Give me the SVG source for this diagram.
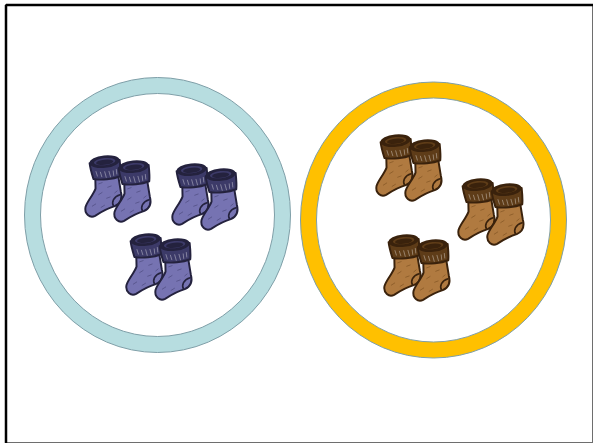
<svg xmlns="http://www.w3.org/2000/svg" width="594" height="445" viewBox="0 0 594 445">
  <style>
    .ring-blue { fill: none; stroke: #b7dde0; stroke-width: 16; }
    .ring-gold { fill: none; stroke: #ffc000; stroke-width: 16; }
    .ring-edge { fill: none; stroke: #7f9fa8; stroke-width: 1; }
    .blue { --body: #7673b2; --ink: #24223e; --band: #3c3a68; --hatch: #3a3866; }
    .brown { --body: #b07a40; --ink: #3a220c; --band: #5e3c18; --hatch: #6a4216; }
    .body { fill: var(--body); stroke: var(--ink); stroke-width: 1.8; stroke-linejoin: round; }
    .band { fill: var(--band); stroke: var(--ink); stroke-width: 1.8; stroke-linejoin: round; }
    .ink { fill: var(--ink); }
    .opening { fill: var(--band); }
    .heel { fill: none; stroke: var(--ink); stroke-width: 1.5; stroke-linecap: round; }
    .hatch { fill: none; stroke: var(--hatch); stroke-width: 0.7; opacity: 0.6; }
    .frill { fill: none; stroke: #fff; stroke-width: 0.8; opacity: 0.4; }
  </style>
  <defs>
    <!-- one sock, origin at the top-left of its cuff, toe pointing down-left -->
    <g id="sock">
      <path class="body" d="M4,18 L3,30 C0,36 -6,41 -8,46 C-10,52 -5,57 0,55 C6,52 13,49 19,48 C25,46 27,41 26,35 L25,18 Z"/>
      <path class="hatch" d="M6,26 L10,25 M14,30 L18,29 M5,36 L9,34 M12,40 L16,39 M-2,46 L2,44 M6,48 L10,46 M20,36 L23,34"/>
      <path class="heel" d="M18,48 C16,44 19,39 25,38"/>
      <path class="band" d="M0,6 C0,11 1,16 2,21 C9,23 20,23 27,21 C28,16 28,11 28,6 Z"/>
      <path class="frill" d="M5,14 L6,19 M9,15 L10,20 M13,15 L14,21 M17,15 L18,21 M21,15 L21,20 M24,14 L24,19"/>
      <ellipse class="ink" cx="14" cy="6" rx="14" ry="5.8"/>
      <ellipse class="opening" cx="14" cy="6" rx="10" ry="3.3"/>
      <ellipse class="ink" cx="14" cy="6.6" rx="8" ry="2.4"/>
    </g>
    <!-- a pair: second sock set back to the right -->
    <g id="pair">
      <use href="#sock" transform="scale(1.08) rotate(-6 14 28)"/>
      <use href="#sock" transform="translate(29 5) scale(1.08) rotate(-6 14 28)"/>
    </g>
  </defs>

  <!-- page frame -->
  <rect x="5.5" y="4.5" width="587" height="438" fill="#fff" stroke="#6e6e6e" stroke-width="1"/>
  <path d="M6,5 L593,5 M6,5 L6,443" fill="none" stroke="#000" stroke-width="2.5"/>

  <!-- left set: blue socks -->
  <g id="set-blue">
    <ellipse class="ring-blue" cx="157.5" cy="215" rx="125" ry="129.5"/>
    <ellipse class="ring-edge" cx="157.5" cy="215" rx="133" ry="137.5"/>
    <ellipse class="ring-edge" cx="157.5" cy="215" rx="117" ry="121.5"/>
  </g>
  <g id="blue-pair-1" class="blue"><use href="#pair" x="92" y="155"/></g>
  <g id="blue-pair-2" class="blue"><use href="#pair" x="179" y="163"/></g>
  <g id="blue-pair-3" class="blue"><use href="#pair" x="133" y="233"/></g>

  <!-- right set: brown socks -->
  <g id="set-brown">
    <ellipse class="ring-gold" cx="433.5" cy="220" rx="125" ry="130"/>
    <ellipse class="ring-edge" cx="433.5" cy="220" rx="133" ry="138"/>
    <ellipse class="ring-edge" cx="433.5" cy="220" rx="117" ry="122"/>
  </g>
  <g id="brown-pair-1" class="brown"><use href="#pair" x="383" y="134"/></g>
  <g id="brown-pair-2" class="brown"><use href="#pair" x="465" y="178"/></g>
  <g id="brown-pair-3" class="brown"><use href="#pair" x="391" y="234"/></g>
</svg>
